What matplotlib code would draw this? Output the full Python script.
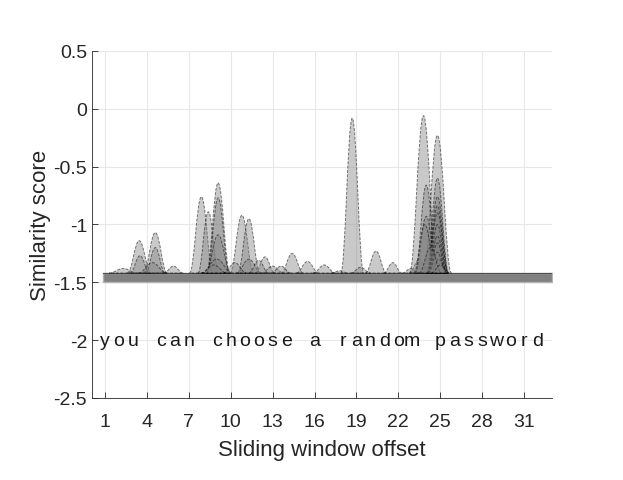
import matplotlib
matplotlib.use('Agg')
import matplotlib.pyplot as plt
from matplotlib.path import Path
from matplotlib.patches import PathPatch
import numpy as np

plt.rcParams['font.family'] = ['Liberation Sans', 'DejaVu Sans']

# peaks: centre offset, peak score, half width
peakX = [2.3, 3.45, 3.5, 4.6, 4.6, 4.4, 5.9,
         7.9, 8.4, 9.1, 9.1, 9.1, 9.0, 8.8, 10.8, 11.3, 11.3, 12.45, 13.0, 10.3, 12.0,
         14.4, 15.5, 16.7, 13.6,
         17.8, 18.7, 19.3, 20.4, 21.6,
         22.9, 23.5, 23.8, 24.8, 24.0, 24.8, 24.8, 24.8, 24.0, 23.9, 24.8, 24.8, 24.8, 24.8, 24.9, 24.8, 24.3, 25.0]
peakY = [-1.38, -1.14, -1.27, -1.07, -1.2, -1.33, -1.36,
         -0.76, -0.89, -0.64, -0.77, -1.09, -1.3, -1.35, -0.92, -0.95, -1.3, -1.28, -1.36, -1.33, -1.31,
         -1.25, -1.32, -1.35, -1.36,
         -1.4, -0.08, -1.37, -1.23, -1.33,
         -1.38, -1.3, -0.06, -0.23, -0.66, -0.6, -0.76, -0.84, -0.93, -1.0, -0.9, -1.0, -1.1, -1.16, -1.3, -1.24, -1.2, -1.35]
peakW = [1.0, 0.85, 0.7, 0.85, 0.7, 1.0, 0.7,
         0.85, 0.75, 0.85, 0.8, 0.9, 1.1, 0.9, 0.85, 0.8, 0.9, 0.7, 0.8, 0.8, 0.7,
         0.8, 0.8, 0.8, 0.7,
         0.6, 0.82, 0.7, 0.75, 0.65,
         0.6, 0.7, 1.0, 1.0, 0.8, 0.8, 0.8, 0.75, 0.8, 0.8, 0.75, 0.7, 0.7, 0.65, 0.6, 0.65, 0.8, 0.6]

baseScore = -1.42
barBottom = -1.5
barStart = 0.85
barEnd = 33

phrase = 'you can choose a random password'
xTicks = list(range(1, 32, 3))
yTicks = [-2.5, -2, -1.5, -1, -0.5, 0, 0.5]

fig = plt.figure(figsize=(6.23, 4.81), dpi=100)
ax = fig.add_axes([0.1477, 0.1705, 0.7383, 0.7215])

ax.grid(True, color=[.91, .91, .91], lw=0.8)
ax.set_axisbelow(True)

# flat bar for the offsets with no match
ax.fill_between([barStart, barEnd], [barBottom, barBottom], [baseScore, baseScore],
                facecolor=[.5, .5, .5], edgecolor=[.7, .7, .7], lw=1, zorder=2)
ax.plot([barStart, barEnd], [baseScore, baseScore], color=[.3, .3, .3], lw=0.8, zorder=2)

for i in range(len(peakX)):
    c = peakX[i]; h = peakY[i]; w = peakW[i]
    verts = [(c-w, baseScore), (c-0.6*w, baseScore), (c-0.4*w, h), (c, h),
             (c+0.4*w, h), (c+0.6*w, baseScore), (c+w, baseScore), (c-w, baseScore)]
    codes = [Path.MOVETO, Path.CURVE4, Path.CURVE4, Path.CURVE4,
             Path.CURVE4, Path.CURVE4, Path.CURVE4, Path.CLOSEPOLY]
    p = PathPatch(Path(verts, codes), facecolor=(.5, .5, .5, .42), edgecolor=(0, 0, 0, .5),
                  lw=0.7, linestyle=(0, (3, 1.5)), zorder=3)
    ax.add_patch(p)

for i, ch in enumerate(phrase):
    ax.text(i+1, -2, ch, ha='center', va='center', fontsize=14, color=[.1, .1, .1])

ax.set_xlim(0.07, 33)
ax.set_ylim(-2.5, 0.5)
ax.set_xticks(xTicks)
ax.set_yticks(yTicks)
ax.set_yticklabels(['-2.5', '-2', '-1.5', '-1', '-0.5', '0', '0.5'])
ax.tick_params(direction='in', length=4, labelsize=14, colors=[.15, .15, .15], width=0.6)
ax.tick_params(axis='x', pad=11)
for s in ['top', 'right']:
    ax.spines[s].set_visible(False)
for s in ['left', 'bottom']:
    ax.spines[s].set_color([.15, .15, .15])
    ax.spines[s].set_linewidth(0.6)

ax.set_xlabel('Sliding window offset', fontsize=16, color=[.15, .15, .15], labelpad=6)
ax.set_ylabel('Similarity score', fontsize=16, color=[.15, .15, .15], labelpad=2)

fig.savefig('out.png', dpi=100)
